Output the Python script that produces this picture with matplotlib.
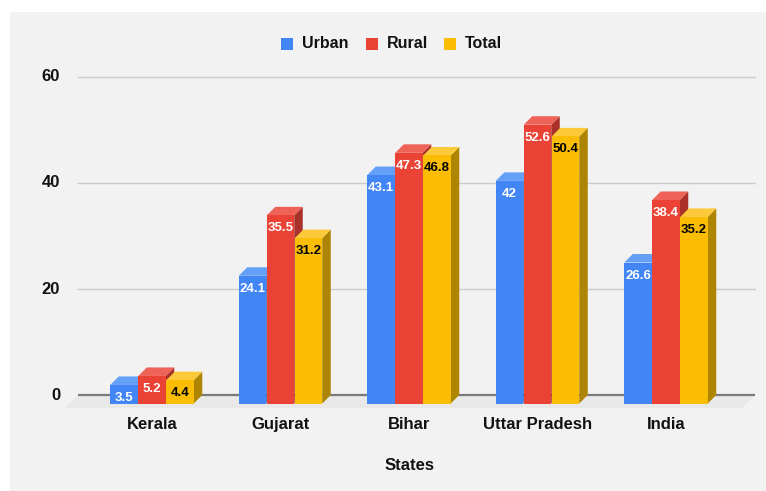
import matplotlib
matplotlib.use("Agg")
import matplotlib.pyplot as plt
from matplotlib.patches import Polygon, Rectangle

categories = ["Kerala", "Gujarat", "Bihar", "Uttar Pradesh", "India"]
series_names = ["Urban", "Rural", "Total"]
urban = [3.5, 24.1, 43.1, 42, 26.6]
rural = [5.2, 35.5, 47.3, 52.6, 38.4]
total = [4.4, 31.2, 46.8, 50.4, 35.2]
yticks = [0, 20, 40, 60]
x_title = "States"

series = [urban, rural, total]
front_cols = ["#4285F4", "#EA4335", "#FBBC04"]
top_cols = ["#64A0F7", "#EE6258", "#FCC93A"]
side_cols = ["#2F62C0", "#A9312A", "#AE8500"]
label_cols = ["white", "white", "black"]

plt.rcParams['font.family'] = ['Liberation Sans', 'DejaVu Sans']

W, H = 766, 491
fig = plt.figure(figsize=(W / 100, H / 100), dpi=100)
fig.patch.set_facecolor("white")
fig.patches.append(Rectangle((10 / W, 0), 1, (H - 12) / H, transform=fig.transFigure,
                             facecolor="#f2f2f2", edgecolor="none", zorder=-10))

# pixel geometry
px_per_unit_y = 5.3
y0_px = 395          # back-plane zero line (from top)
cat0_px = 152        # first category centre
cat_step = 128.5     # px between categories
ax_left, ax_right, ax_top, ax_bot = 0, W, 0, H

ax = fig.add_axes([ax_left / W, 1 - ax_bot / H, (ax_right - ax_left) / W, (ax_bot - ax_top) / H])
ax.set_facecolor("none")
ax.set_xlim((ax_left - cat0_px) / cat_step, (ax_right - cat0_px) / cat_step)
ax.set_ylim(-(ax_bot - y0_px) / px_per_unit_y, (y0_px - ax_top) / px_per_unit_y)
ax.axis("off")

def px_x(p):
    return (p - cat0_px) / cat_step

def px_y(dp):
    return dp / px_per_unit_y

# floor
fd = 13
floor = Polygon([(px_x(78), 0), (px_x(755), 0), (px_x(755 - fd), -px_y(fd)), (px_x(78 - fd), -px_y(fd))],
                closed=True, facecolor="#e9e9e9", edgecolor="none", zorder=0)
ax.add_patch(floor)

# gridlines
for t in yticks:
    if t == 0:
        ax.plot([px_x(78), px_x(755)], [0, 0], color="#7a7a7a", lw=1.6, zorder=1, solid_capstyle="butt")
    else:
        ax.plot([px_x(78), px_x(755)], [t, t], color="#cccccc", lw=1.0, zorder=1)
    ax.text(px_x(60), t, str(t), ha="right", va="center", fontsize=12, fontweight="bold", color="#111111")

# bars
d_px = 8.5
dx = d_px / cat_step
dy = px_y(d_px)
bw = 27.5 / cat_step
step = 28 / cat_step
z = 2
for ci in range(len(categories)):
    for si, vals in enumerate(series):
        v = vals[ci]
        xc = ci + (si - 1) * step
        x0 = xc - bw / 2
        x1 = xc + bw / 2
        side = Polygon([(x1, -dy), (x1 + dx, 0), (x1 + dx, v), (x1, v - dy)], closed=True,
                       facecolor=side_cols[si], edgecolor="none", zorder=z)
        top = Polygon([(x0, v - dy), (x1, v - dy), (x1 + dx, v), (x0 + dx, v)], closed=True,
                      facecolor=top_cols[si], edgecolor="none", zorder=z)
        front = Rectangle((x0, -dy), bw, v, facecolor=front_cols[si], edgecolor="none", zorder=z + 0.5)
        ax.add_patch(side)
        ax.add_patch(top)
        ax.add_patch(front)
        ax.text(xc, v - dy - px_y(13), f"{v:g}", ha="center", va="center", fontsize=9.5,
                fontweight="bold", color=label_cols[si], zorder=z + 0.8)
        z += 1

# category labels
for ci, c in enumerate(categories):
    ax.text(ci, -px_y(424.5 - y0_px), c, ha="center", va="center", fontsize=12,
            fontweight="bold", color="#111111")

ax.text(px_x(410), -px_y(466 - y0_px), x_title, ha="center", va="center", fontsize=12,
        fontweight="bold", color="#111111")

# legend
leg_x = [281, 366, 444]
for si, name in enumerate(series_names):
    fig.patches.append(Rectangle((leg_x[si] / W, 1 - 50 / H), 12 / W, 12 / H, transform=fig.transFigure,
                                 facecolor=front_cols[si], edgecolor="none"))
    fig.text((leg_x[si] + 21) / W, 1 - 44 / H, name, ha="left", va="center", fontsize=11.5,
             fontweight="bold", color="#111111")

fig.savefig("out.png", dpi=100, facecolor=fig.get_facecolor())
